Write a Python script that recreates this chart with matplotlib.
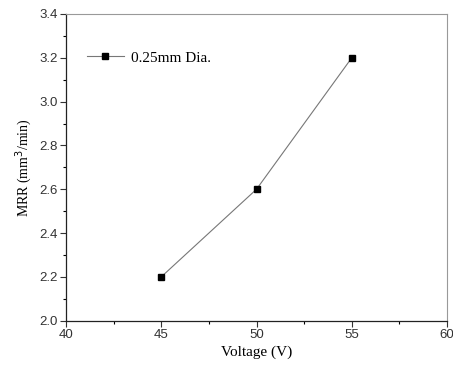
import matplotlib
matplotlib.use('Agg')
import matplotlib.pyplot as plt
from matplotlib.ticker import MultipleLocator

# Data
voltage = [45, 50, 55]
mrr = [2.2, 2.6, 3.2]
series_label = '0.25mm Dia.'

fig = plt.figure(figsize=(4.53, 3.71), dpi=100)
ax = fig.add_axes([0.1457, 0.1356, 0.8411, 0.8267])

ax.plot(voltage, mrr, '-', color='#777777', linewidth=0.8,
        marker='s', markersize=4.5, markerfacecolor='black', markeredgecolor='black',
        label=series_label)

ax.set_xlim(40, 60)
ax.set_ylim(2.0, 3.4)
ax.xaxis.set_major_locator(MultipleLocator(5))
ax.xaxis.set_minor_locator(MultipleLocator(2.5))
ax.yaxis.set_major_locator(MultipleLocator(0.2))
ax.yaxis.set_minor_locator(MultipleLocator(0.1))
ax.yaxis.set_major_formatter(matplotlib.ticker.FormatStrFormatter('%.1f'))

ax.tick_params(which='both', direction='out', top=False, right=False, width=0.8)
ax.tick_params(which='major', length=4, labelsize=9.5, pad=2, colors='#333333')
ax.tick_params(which='minor', length=2.5)
for lbl in ax.get_xticklabels() + ax.get_yticklabels():
    lbl.set_fontfamily('Liberation Sans')

for s in ['top', 'right']:
    ax.spines[s].set_color('#999999')
    ax.spines[s].set_linewidth(0.8)
for s in ['left', 'bottom']:
    ax.spines[s].set_color('#222222')
    ax.spines[s].set_linewidth(0.9)

ax.set_xlabel('Voltage (V)', fontfamily='Liberation Serif', fontsize=11, labelpad=3)
ax.set_ylabel('MRR (mm$^3$/min)', fontfamily='Liberation Serif', fontsize=10, labelpad=4)

leg = ax.legend(loc='center left', bbox_to_anchor=(0.055, 0.857), frameon=False,
                prop={'family': 'Liberation Serif', 'size': 11}, handlelength=2.4,
                handletextpad=0.5, borderaxespad=0, borderpad=0)

fig.savefig('out.png', dpi=100)
